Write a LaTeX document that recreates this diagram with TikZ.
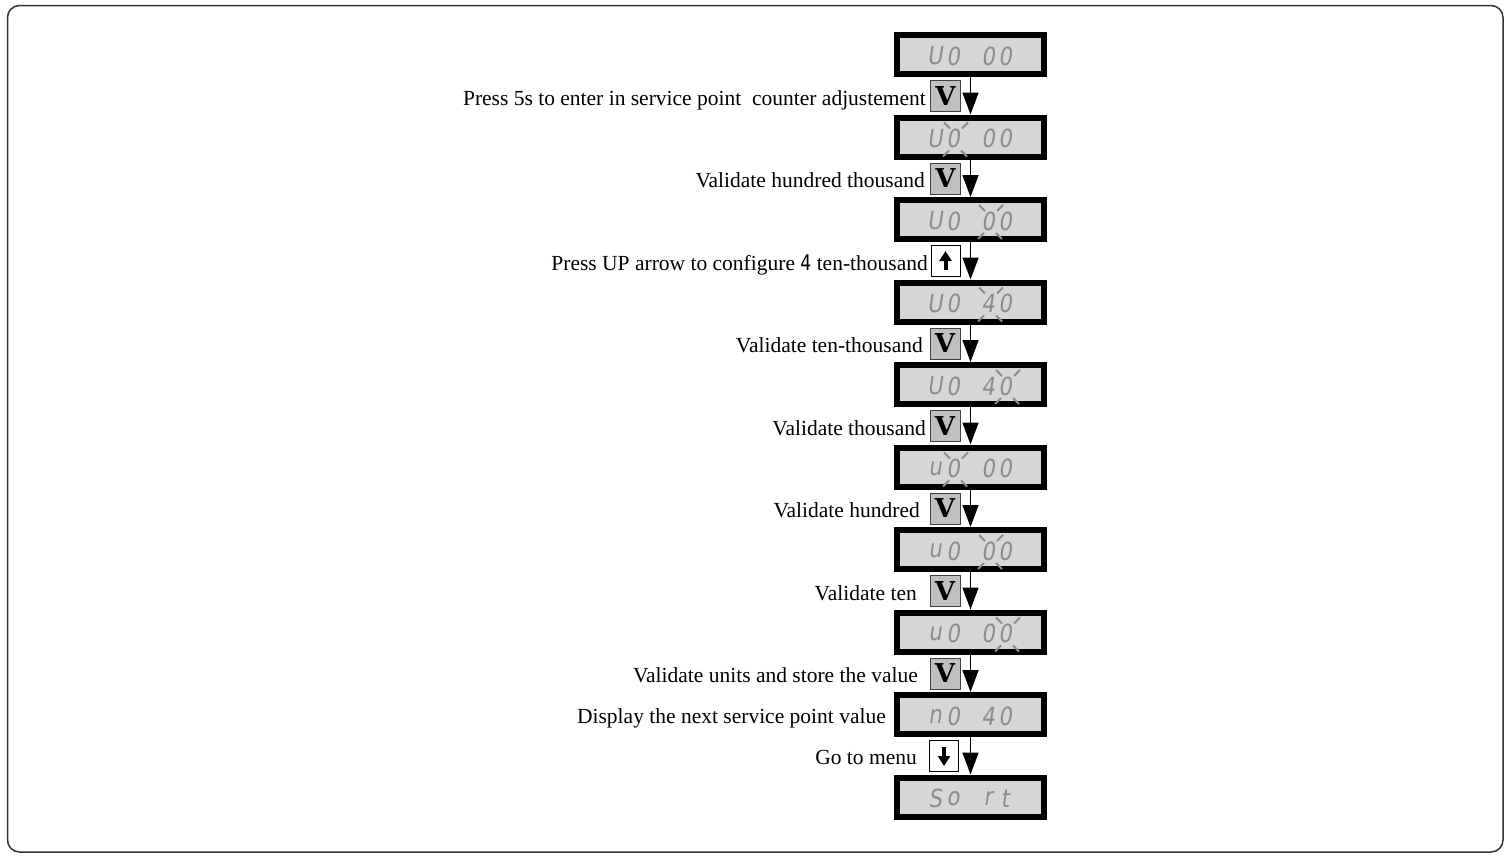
\documentclass[tikz,border=0pt]{standalone}
\usepackage{fontspec}
\setmainfont{Liberation Serif}
\newfontfamily\segfont[FakeSlant=0.15,FakeStretch=0.85]{DejaVu Sans}
\newfontfamily\fourfont[FakeStretch=0.8]{DejaVu Sans}
\newfontfamily\btnfont{DejaVu Serif}
\usetikzlibrary{arrows.meta}
\definecolor{lcdbg}{HTML}{D6D6D6}
\definecolor{lcdfg}{HTML}{8C8C8C}
\definecolor{btnbg}{HTML}{C0C0C0}
\definecolor{framec}{HTML}{333333}
\tikzset{
  lcd/.style={draw=black, line width=6pt, fill=lcdbg, minimum width=147pt, minimum height=39pt, inner sep=0pt},
  seg/.style={font=\segfont\fontsize{25}{25}\selectfont, text=lcdfg, inner sep=0pt},
  lbl/.style={font=\fontsize{21.5}{25}\selectfont, anchor=base east, inner sep=0pt},
  vbtn/.style={draw=black!75, line width=1pt, fill=btnbg, minimum width=30pt, minimum height=31pt, inner sep=0pt, font=\btnfont\bfseries\fontsize{26}{26}\selectfont},
  abtn/.style={draw=black, line width=1pt, fill=white, minimum width=29pt, minimum height=31pt, inner sep=0pt},
  btnarrow/.style={line width=4pt, -{Triangle[length=10pt,width=12pt]}},
  flow/.style={line width=1.5pt, -{Triangle[length=22pt,width=16pt]}},
  blinkmark/.style={draw=lcdfg, line width=2pt},
  outerframe/.style={draw=framec, line width=1.5pt, rounded corners=12pt},
}
% display: name, index, four characters
\newcommand\lcdbox[6]{%
  \node[lcd] (#1) at (970.5,{54.5+82.5*(#2-1)}) {};
  \node[seg] (#1-a) at (935,{56+82.5*(#2-1)}) {#3};
  \node[seg] (#1-b) at (953,{56+82.5*(#2-1)}) {#4};
  \node[seg] (#1-c) at (988,{56+82.5*(#2-1)}) {#5};
  \node[seg] (#1-d) at (1005,{56+82.5*(#2-1)}) {#6};
}
\newcommand\blinkon[1]{%
  \draw[blinkmark, shift={(#1.center)}] (-9,-16) -- (-3,-10) (15,-16) -- (9,-10)
    (-10,18) -- (-4,12) (14,18) -- (8,12);
}
\begin{document}
\begin{tikzpicture}[x=1pt, y=-1pt]
\useasboundingbox (0,0) rectangle (1511,855);
\draw[outerframe] (7.5,5.5) rectangle (1503,852);

\lcdbox{d1}{1}{U}{0}{0}{0}
\lcdbox{d2}{2}{U}{0}{0}{0}
\lcdbox{d3}{3}{U}{0}{0}{0}
\lcdbox{d4}{4}{U}{0}{4}{0}
\lcdbox{d5}{5}{U}{0}{4}{0}
\lcdbox{d6}{6}{u}{0}{0}{0}
\lcdbox{d7}{7}{u}{0}{0}{0}
\lcdbox{d8}{8}{u}{0}{0}{0}
\lcdbox{d9}{9}{n}{0}{4}{0}
\lcdbox{d10}{10}{S}{o}{r}{t}

\blinkon{d2-b}
\blinkon{d3-c}
\blinkon{d4-c}
\blinkon{d5-d}
\blinkon{d6-b}
\blinkon{d7-c}
\blinkon{d8-d}

% flow arrows
\draw[flow] (d1.south) -- (d2.north);
\draw[flow] (d2.south) -- (d3.north);
\draw[flow] (d3.south) -- (d4.north);
\draw[flow] (d4.south) -- (d5.north);
\draw[flow] (d5.south) -- (d6.north);
\draw[flow] (d6.south) -- (d7.north);
\draw[flow] (d7.south) -- (d8.north);
\draw[flow] (d8.south) -- (d9.north);
\draw[flow] (d9.south) -- (d10.north);

% buttons
\node[vbtn] (b1) at (945.5,96) {V};
\node[vbtn] (b2) at (945.5,178.5) {V};
\node[abtn] (b3) at (945.5,261) {};
\draw[btnarrow, shift={(b3.center)}] (0,9) -- (0,-10);
\node[vbtn] (b4) at (945,343.5) {V};
\node[vbtn] (b5) at (945,426) {V};
\node[vbtn] (b6) at (945,508.5) {V};
\node[vbtn] (b7) at (945,591) {V};
\node[vbtn] (b8) at (945,673.5) {V};
\node[abtn] (b9) at (944,756) {};
\draw[btnarrow, shift={(b9.center)}] (0,-9) -- (0,10);

% labels
\node[lbl] (t1) at (926,105) {Press 5s to enter in service point\ \ counter adjustement};
\node[lbl] (t2) at (925,187.5) {Validate hundred thousand};
\node[lbl] (t3) at (928,270) {Press UP arrow to configure {\fourfont 4} ten-thousand};
\node[lbl] (t4) at (923,352.5) {Validate ten-thousand};
\node[lbl] (t5) at (926,435) {Validate thousand};
\node[lbl] (t6) at (920,517.5) {Validate hundred};
\node[lbl] (t7) at (917,600) {Validate ten};
\node[lbl] (t8) at (918,682.5) {Validate units and store the value};
\node[lbl] (t9) at (886,723.5) {Display the next service point value};
\node[lbl] (t10) at (917,764) {Go to menu};
\end{tikzpicture}
\end{document}
